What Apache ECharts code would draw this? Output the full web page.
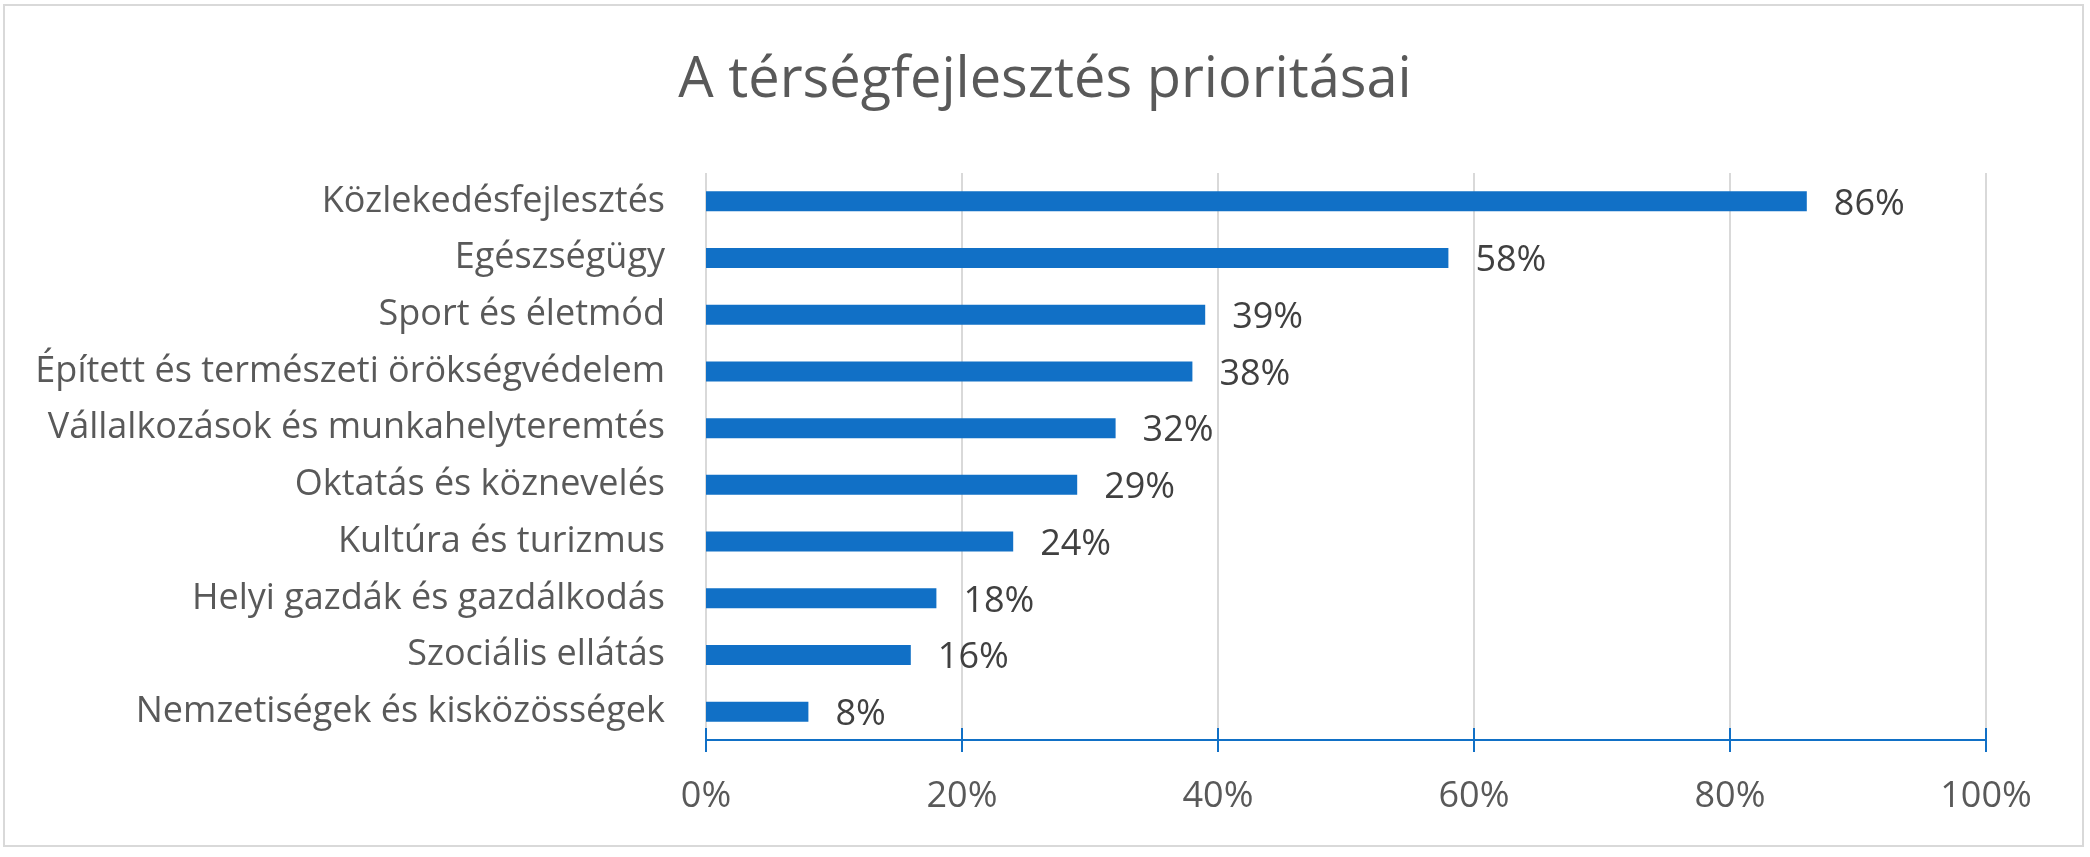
<!DOCTYPE html>
<html>
<head>
<meta charset="utf-8">
<title>A térségfejlesztés prioritásai</title>
<script src="https://cdn.jsdelivr.net/npm/echarts@6/dist/echarts.min.js"></script>
<style>
  html, body { margin: 0; padding: 0; background: #ffffff; }
  #chart { width: 2090px; height: 857px; }
</style>
</head>
<body>
<div id="chart"></div>
<script>
const titleText = "A térségfejlesztés prioritásai";
const categories = [
  "Közlekedésfejlesztés",
  "Egészségügy",
  "Sport és életmód",
  "Épített és természeti örökségvédelem",
  "Vállalkozások és munkahelyteremtés",
  "Oktatás és köznevelés",
  "Kultúra és turizmus",
  "Helyi gazdák és gazdálkodás",
  "Szociális ellátás",
  "Nemzetiségek és kisközösségek",
];
const shares = [86, 58, 39, 38, 32, 29, 24, 18, 16, 8];
const axisTicks = [0, 20, 40, 60, 80, 100];

const font = "'Open Sans', 'DejaVu Sans', sans-serif";
const blue = "#1170c6";

const chart = echarts.init(document.getElementById("chart"));

chart.setOption({
  animation: false,
  backgroundColor: "#ffffff",
  textStyle: { fontFamily: font },
  title: {
    text: titleText,
    left: "center",
    top: 48,
    textStyle: {
      fontFamily: font,
      fontSize: 56,
      fontWeight: "normal",
      color: "#595959",
    },
  },
  graphic: [
    {
      type: "rect",
      shape: { x: 4, y: 5, width: 2079, height: 841 },
      style: { fill: "none", stroke: "#d9d9d9", lineWidth: 2 },
      silent: true,
    },
  ],
  grid: { left: 706, right: 104, top: 173, bottom: 117 },
  xAxis: [
    {
      type: "value",
      position: "bottom",
      min: axisTicks[0],
      max: axisTicks[axisTicks.length - 1],
      interval: 20,
      axisLine: { show: true, lineStyle: { color: blue, width: 2 } },
      axisTick: { show: true, inside: false, length: 12, lineStyle: { color: blue, width: 2 } },
      axisLabel: {
        formatter: "{value}%",
        fontSize: 36,
        color: "#595959",
        margin: 39,
        fontFamily: font,
      },
      splitLine: { show: true, lineStyle: { color: "#d9d9d9", width: 2 } },
    },
    {
      type: "value",
      position: "bottom",
      offset: 0,
      min: axisTicks[0],
      max: axisTicks[axisTicks.length - 1],
      interval: 20,
      axisLine: { show: false },
      axisTick: { show: true, inside: true, length: 12, lineStyle: { color: blue, width: 2 } },
      axisLabel: { show: false },
      splitLine: { show: false },
    },
  ],
  yAxis: {
    type: "category",
    data: categories,
    inverse: true,
    axisLine: { show: false },
    axisTick: { show: false },
    axisLabel: {
      fontSize: 36,
      color: "#595959",
      margin: 41,
      fontFamily: font,
    },
  },
  series: [
    {
      type: "bar",
      xAxisIndex: 0,
      data: shares,
      barWidth: 20,
      itemStyle: { color: blue },
      label: {
        show: true,
        position: "right",
        distance: 27,
        offset: [0, 3],
        formatter: "{c}%",
        fontSize: 36,
        color: "#404040",
        fontFamily: font,
      },
    },
  ],
});
</script>
</body>
</html>
